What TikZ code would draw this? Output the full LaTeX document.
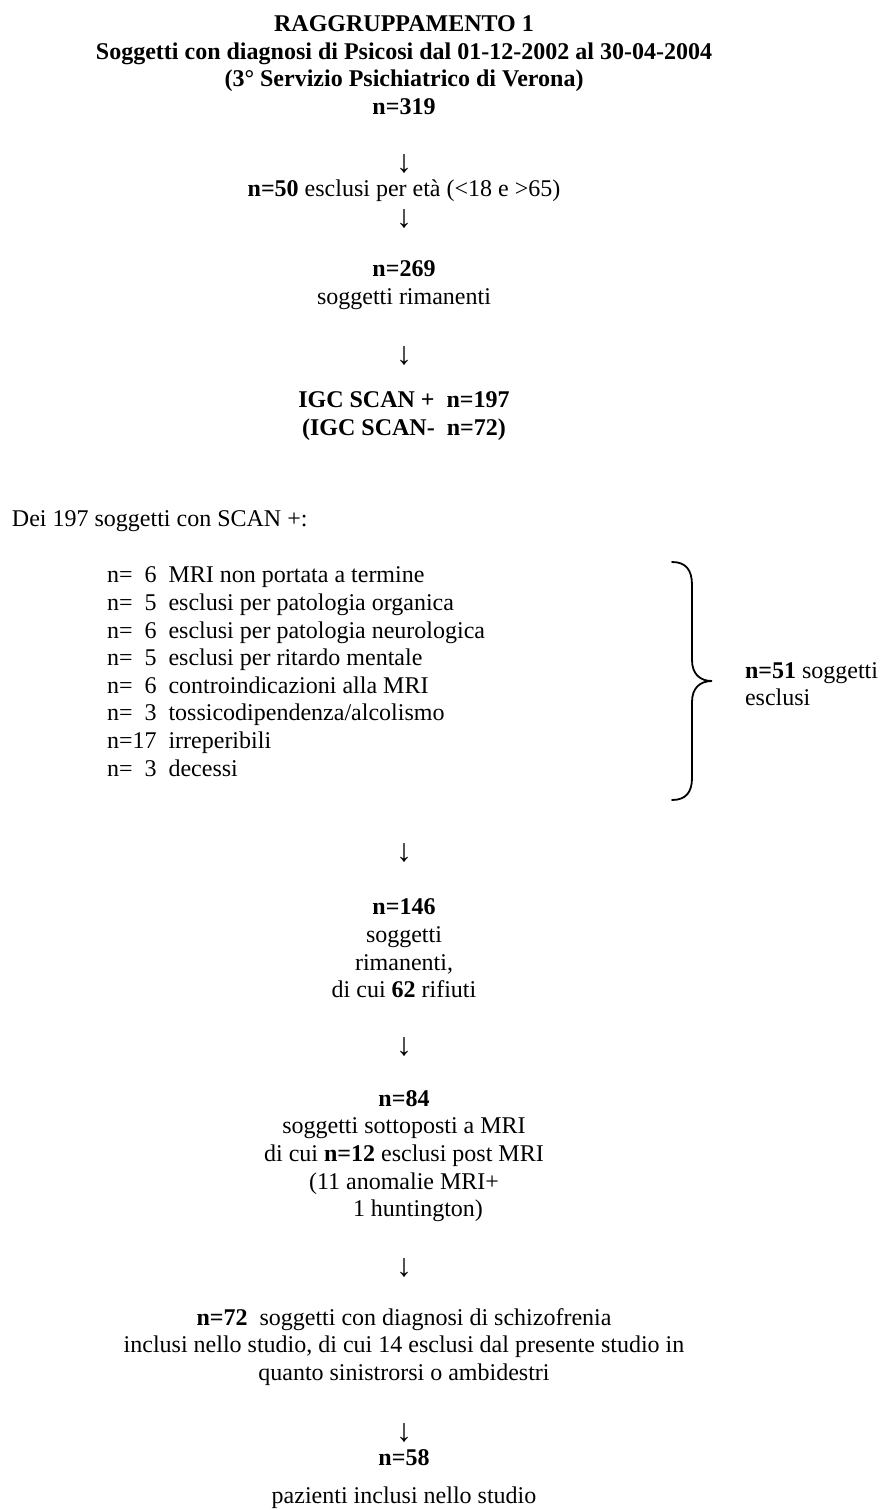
\documentclass[tikz,border=0pt]{standalone}
\usepackage{fontspec}
\setmainfont{Liberation Serif}
\newcommand{\nrow}[2]{n=\makebox[24pt][r]{#1}\hspace{12pt}#2}
\begin{document}
\begin{tikzpicture}[x=1pt,y=-1pt,
  txt/.style={inner sep=0pt, outer sep=0pt, align=center, font=\fontsize{24}{27.6}\selectfont},
  btxt/.style={txt, font=\fontsize{24}{27.6}\selectfont\bfseries},
  ltxt/.style={txt, align=left},
  arr/.style={txt, font=\fontsize{32}{34}\selectfont},
  bracepath/.style={line width=1.8pt, line cap=round}]
\useasboundingbox (0,0) rectangle (893,1510);

\node[btxt] (title) at (404,65)
  {RAGGRUPPAMENTO 1\\Soggetti con diagnosi di Psicosi dal 01-12-2002 al 30-04-2004\\(3° Servizio Psichiatrico di Verona)\\n=319};
\node[arr] (a1) at (404,164) {↓};
\node[txt] (n50) at (404,191) {\textbf{n=50} esclusi per età (<18 e >65)};
\node[arr] (a2) at (404,219) {↓};
\node[txt] (n269) at (404,285) {\textbf{n=269}\\soggetti rimanenti};
\node[arr] (a3) at (404,356) {↓};
\node[btxt] (igc) at (404,416) {IGC SCAN +\ \ n=197\\(IGC SCAN-\ \ n=72)};
\node[ltxt, anchor=west] (dei) at (12,521) {Dei 197 soggetti con SCAN +:};
\node[ltxt, anchor=west] (list) at (107,671.6) {%
  \nrow{6}{MRI non portata a termine}\\
  \nrow{5}{esclusi per patologia organica}\\
  \nrow{6}{esclusi per patologia neurologica}\\
  \nrow{5}{esclusi per ritardo mentale}\\
  \nrow{6}{controindicazioni alla MRI}\\
  \nrow{3}{tossicodipendenza/alcolismo}\\
  \nrow{17}{irreperibili}\\
  \nrow{3}{decessi}};
\draw[bracepath] (672,562) .. controls (686,562) and (692,570) .. (692,585)
  -- (692,660) .. controls (692,674) and (700,681) .. (712,681)
  .. controls (700,681) and (692,688) .. (692,702)
  -- (692,778) .. controls (692,792) and (686,800) .. (672,800);
\node[ltxt, anchor=west] (n51) at (745,684) {\textbf{n=51} soggetti\\esclusi};
\node[arr] (a4) at (404,853) {↓};
\node[txt] (n146) at (404,948.5) {\textbf{n=146}\\soggetti\\rimanenti,\\di cui \textbf{62} rifiuti};
\node[arr] (a5) at (404,1047) {↓};
\node[txt] (n84) at (404,1156) {\textbf{n=84}\\soggetti sottoposti a MRI\\di cui \textbf{n=12} esclusi post MRI\\(11 anomalie MRI+\\\hspace*{28pt}1 huntington)};
\node[arr] (a6) at (404,1268) {↓};
\node[txt] (n72) at (404,1347) {\textbf{n=72}\ \ soggetti con diagnosi di schizofrenia\\inclusi nello studio, di cui 14 esclusi dal presente studio in\\quanto sinistrorsi o ambidestri};
\node[arr] (a7) at (404,1433) {↓};
\node[txt] (n58) at (404,1458) {\textbf{n=58}};
\node[txt] (paz) at (404,1498) {pazienti inclusi nello studio};
\end{tikzpicture}
\end{document}
